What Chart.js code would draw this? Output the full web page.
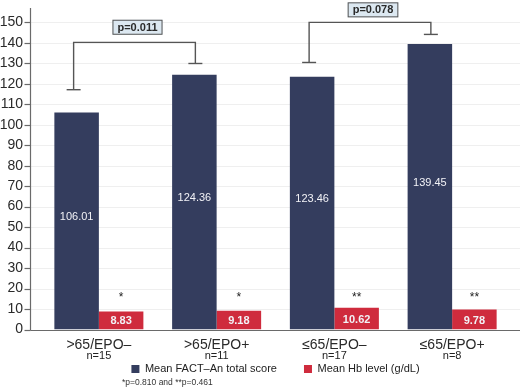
<html>
<head>
  <style>
    body{
      margin: 0;
      background-color: #FFFFFF;
    }
    #wrap{
      width: 520px;
      height: 391px;
    }
  </style>
  <script src="https://cdn.jsdelivr.net/npm/chart.js"></script>
</head>
<body>

<div id="wrap">
  <canvas id="myChart"></canvas>
</div>

<script>
  const ctx = document.getElementById('myChart');

  // data
  var groups = ['>65/EPO\u2013', '>65/EPO+', '\u226465/EPO\u2013', '\u226465/EPO+'];
  var counts = ['n=15', 'n=11', 'n=17', 'n=8'];
  var factScores = [106.01, 124.36, 123.46, 139.45];
  var hbLevels = [8.83, 9.18, 10.62, 9.78];
  var hbMarks = ['*', '*', '**', '**'];
  var seriesNames = ['Mean FACT\u2013An total score', 'Mean Hb level (g/dL)'];
  // p-value brackets: bar index from/to, bracket top, foot of each leg, label
  var bracketFrom = [0, 2];
  var bracketTo = [1, 3];
  var bracketTop = [140.2, 150];
  var bracketLeftFoot = [117.1, 130.4];
  var bracketRightFoot = [129.9, 144.1];
  var bracketLabels = ['p=0.011', 'p=0.078'];
  var bracketLabelAt = [147.6, 156.1];
  var footnote = '*p=0.810 and **p=0.461';

  var navy = '#343d5e';
  var red = '#cf2b3d';

  Chart.defaults.font.family = '"Liberation Sans", Arial, sans-serif';
  Chart.defaults.color = '#2a2a2a';

  function line(c, x1, y1, x2, y2) {
    c.beginPath();
    c.moveTo(x1, y1);
    c.lineTo(x2, y2);
    c.stroke();
  }

  // axes sit a bit left of the plot, gridlines run to the edge
  var extras = {
    id: 'extras',
    beforeDatasetsDraw(chart) {
      const c = chart.ctx;
      const y = chart.scales.y;
      const ax = chart.chartArea.left - 9;
      c.save();
      c.strokeStyle = '#efefef';
      c.lineWidth = 1;
      y.ticks.forEach(t => {
        if (t.value === 0) return;
        const py = Math.round(y.getPixelForValue(t.value)) + 0.5;
        line(c, ax, py, chart.width, py);
      });
      c.restore();
    },
    afterDatasetsDraw(chart) {
      const c = chart.ctx;
      const x = chart.scales.x;
      const y = chart.scales.y;
      const area = chart.chartArea;
      const ax = area.left - 9.5;
      const fact = chart.getDatasetMeta(0).data;
      const hb = chart.getDatasetMeta(1).data;
      c.save();

      // axes
      c.strokeStyle = '#6a6a6a';
      c.lineWidth = 1.2;
      const base = Math.round(y.getPixelForValue(0)) + 0.5;
      line(c, ax, area.top, ax, base);
      line(c, ax, base, chart.width, base);
      y.ticks.forEach(t => {
        const py = Math.round(y.getPixelForValue(t.value)) + 0.5;
        line(c, ax - 6, py, ax, py);
      });

      // values inside bars
      c.fillStyle = '#f2f2f6';
      c.font = '11px "Liberation Sans", Arial, sans-serif';
      c.textAlign = 'center';
      c.textBaseline = 'middle';
      fact.forEach((b, i) => {
        c.fillText(factScores[i].toFixed(2), b.x, (b.y + b.base) / 2 - 4);
      });
      c.font = 'bold 11px "Liberation Sans", Arial, sans-serif';
      hb.forEach((b, i) => {
        c.fillText(hbLevels[i].toFixed(2), b.x, (b.y + b.base) / 2 + 1);
      });

      // significance marks above Hb bars
      c.fillStyle = '#222';
      c.font = '12px "Liberation Sans", Arial, sans-serif';
      hb.forEach((b, i) => {
        c.fillText(hbMarks[i], b.x, y.getPixelForValue(15.5));
      });

      // group sizes under category names
      c.font = '11px "Liberation Sans", Arial, sans-serif';
      counts.forEach((n, i) => {
        c.fillText(n, x.getPixelForTick(i), area.bottom + 26);
      });

      // brackets
      c.strokeStyle = '#555';
      c.lineWidth = 1.4;
      bracketLabels.forEach((lab, k) => {
        const x1 = fact[bracketFrom[k]].x - 3;
        const x2 = fact[bracketTo[k]].x + 1;
        const top = y.getPixelForValue(bracketTop[k]);
        const f1 = y.getPixelForValue(bracketLeftFoot[k]);
        const f2 = y.getPixelForValue(bracketRightFoot[k]);
        c.beginPath();
        c.moveTo(x1, f1);
        c.lineTo(x1, top);
        c.lineTo(x2, top);
        c.lineTo(x2, f2);
        c.stroke();
        line(c, x1 - 7, f1, x1 + 7, f1);
        line(c, x2 - 7, f2, x2 + 7, f2);

        const cx = (x1 + x2) / 2 + 3;
        const cy = y.getPixelForValue(bracketLabelAt[k]);
        c.font = 'bold 11px "Liberation Sans", Arial, sans-serif';
        const w = c.measureText(lab).width + 10;
        c.fillStyle = '#dce8f1';
        c.fillRect(cx - w / 2, cy - 7.5, w, 15);
        c.lineWidth = 1;
        c.strokeStyle = '#555';
        c.strokeRect(cx - w / 2 + 0.5, cy - 7, w - 1, 14);
        c.fillStyle = '#2a2a2a';
        c.fillText(lab, cx, cy + 0.5);
        c.lineWidth = 1.4;
      });

      // footnote
      c.font = '8.5px "Liberation Sans", Arial, sans-serif';
      c.textAlign = 'left';
      c.fillStyle = '#333';
      c.fillText(footnote, 122, 383);
      c.restore();
    }
  };

  new Chart(ctx, {
    type: 'bar',
    data: {
      labels: groups,
      datasets: [{
        label: seriesNames[0],
        backgroundColor: navy,
        data: factScores
      },
      {
        label: seriesNames[1],
        backgroundColor: red,
        data: hbLevels
      }]
    },
    options: {
      responsive: true,
      maintainAspectRatio: false,
      animation: false,
      categoryPercentage: 0.756,
      barPercentage: 1,
      layout: {
        padding: {top: 8, right: 9, bottom: 6.5, left: 0}
      },
      plugins: {
        legend: {
          position: 'bottom',
          fullSize: false,
          labels: {
            boxWidth: 8,
            boxHeight: 8,
            padding: 27,
            color: '#222',
            font: {size: 11}
          }
        },
        tooltip: {enabled: false}
      },
      scales: {
        x: {
          grid: {display: false, drawTicks: false},
          border: {display: false},
          ticks: {
            // mirrored so the names are not clipped to the thin axis box
            mirror: true,
            padding: -24,
            color: '#2a2a2a',
            font: {size: 14}
          },
          afterFit(s) { s.height = 7; }
        },
        y: {
          min: 0,
          max: 157,
          grid: {display: false, drawTicks: false},
          border: {display: false},
          ticks: {
            stepSize: 10,
            includeBounds: false,
            padding: 17,
            color: '#2a2a2a',
            font: {size: 14}
          },
          afterFit(s) {
            s.width = 40;
            s.paddingTop = 0;
            s.paddingBottom = 0;
          }
        }
      }
    },
    plugins: [extras]
  });
</script>
</body>
</html>
